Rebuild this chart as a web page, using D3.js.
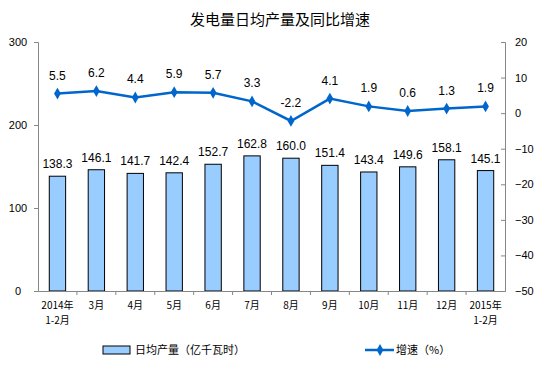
<!DOCTYPE html>
<html>
<head>
<meta charset="utf-8">
<script src="https://cdn.jsdelivr.net/npm/d3@7"></script>
<style>
  body { margin: 0; background: #fff; }
  text { font-family: "Liberation Sans", Arial, sans-serif; }
  .cjk { font-family: "Noto Sans CJK SC", sans-serif; }
</style>
</head>
<body>
<div id="chart"></div>
<script>
const categories = ["2014年\n1-2月", "3月", "4月", "5月", "6月", "7月", "8月", "9月", "10月", "11月", "12月", "2015年\n1-2月"];
const output = [138.3, 146.1, 141.7, 142.4, 152.7, 162.8, 160.0, 151.4, 143.4, 149.6, 158.1, 145.1];
const growth = [5.5, 6.2, 4.4, 5.9, 5.7, 3.3, -2.2, 4.1, 1.9, 0.6, 1.3, 1.9];
const leftTicks = [0, 100, 200, 300];
const rightTicks = [20, 10, 0, -10, -20, -30, -40, -50];

const width = 559, height = 385;
const margin = { top: 42, right: 54, bottom: 94, left: 38 };

const svg = d3.select("#chart").append("svg")
  .attr("width", width)
  .attr("height", height);

const x = d3.scaleBand()
  .domain(categories)
  .range([margin.left, width - margin.right])
  .paddingInner(0.58)
  .paddingOuter(0.29);

const band = d3.scaleBand()
  .domain(categories)
  .range([margin.left, width - margin.right]);

const yL = d3.scaleLinear().domain([0, 300]).range([height - margin.bottom, margin.top]);
const yR = d3.scaleLinear().domain([-50, 20]).range([height - margin.bottom, margin.top]);

// title
svg.append("text")
  .attr("class", "cjk")
  .attr("x", 280)
  .attr("y", 25)
  .attr("text-anchor", "middle")
  .style("font-size", "15px")
  .style("fill", "#000")
  .text("发电量日均产量及同比增速");

// bars
svg.selectAll("rect.bar")
  .data(output)
  .enter()
  .append("rect")
  .attr("class", "bar")
  .attr("x", (d, i) => x(categories[i]))
  .attr("width", x.bandwidth())
  .attr("y", d => yL(d))
  .attr("height", d => yL(0) - yL(d))
  .style("fill", "#99ccff")
  .style("stroke", "#000")
  .style("stroke-width", 1);

svg.selectAll("text.barlabel")
  .data(output)
  .enter()
  .append("text")
  .attr("class", "barlabel")
  .attr("x", (d, i) => band(categories[i]) + band.bandwidth() / 2)
  .attr("y", d => yL(d) - 8)
  .attr("text-anchor", "middle")
  .style("font-size", "12px")
  .style("fill", "#000")
  .text(d => d.toFixed(1));

// axes
const axisColor = "#868686";

const gL = svg.append("g")
  .attr("transform", `translate(${margin.left},0)`)
  .call(d3.axisLeft(yL).tickValues(leftTicks).tickSize(4).tickPadding(12));

const gR = svg.append("g")
  .attr("transform", `translate(${width - margin.right},0)`)
  .call(d3.axisRight(yR).tickValues(rightTicks).tickSize(-4).tickPadding(12));

const gX = svg.append("g")
  .attr("transform", `translate(0,${yL(0)})`)
  .call(d3.axisBottom(band).tickSize(0).tickFormat(""));

gX.selectAll(".tick").remove();
gX.selectAll("line.sep")
  .data(d3.range(1, categories.length))
  .enter()
  .append("line")
  .attr("x1", i => band(categories[i]))
  .attr("x2", i => band(categories[i]))
  .attr("y1", 0)
  .attr("y2", 4)
  .style("stroke", axisColor);

[gL, gR, gX].forEach(g => {
  g.select(".domain").style("stroke", axisColor);
  g.selectAll(".tick line").style("stroke", axisColor);
  g.selectAll(".tick text")
    .style("font-size", "11px")
    .style("fill", "#000")
    .style("font-family", "'Liberation Sans', Arial, sans-serif");
});
gL.selectAll(".tick text").attr("x", -20).attr("text-anchor", "middle");
gR.selectAll(".tick text").attr("x", 10).attr("text-anchor", "start");

// x labels
const xl = svg.append("g");
categories.forEach(c => {
  const lines = c.split("\n");
  const t = xl.append("text")
    .attr("class", "cjk")
    .attr("x", band(c) + band.bandwidth() / 2)
    .attr("y", yL(0) + 18)
    .attr("text-anchor", "middle")
    .style("font-size", "10px")
    .style("fill", "#000");
  lines.forEach((l, j) => {
    t.append("tspan")
      .attr("x", band(c) + band.bandwidth() / 2)
      .attr("dy", j === 0 ? 0 : 15)
      .text(l);
  });
});

// line
const lineColor = "#0066cc";
const line = d3.line()
  .x((d, i) => band(categories[i]) + band.bandwidth() / 2)
  .y(d => yR(d));

svg.append("path")
  .datum(growth)
  .attr("d", line)
  .style("fill", "none")
  .style("stroke", lineColor)
  .style("stroke-width", 2.5);

const diamond = d3.symbol().type(d3.symbolDiamond).size(40);

svg.selectAll("path.marker")
  .data(growth)
  .enter()
  .append("path")
  .attr("class", "marker")
  .attr("d", diamond)
  .attr("transform", (d, i) => `translate(${band(categories[i]) + band.bandwidth() / 2},${yR(d)})`)
  .style("fill", lineColor);

svg.selectAll("text.linelabel")
  .data(growth)
  .enter()
  .append("text")
  .attr("class", "linelabel")
  .attr("x", (d, i) => band(categories[i]) + band.bandwidth() / 2)
  .attr("y", d => yR(d) - 14)
  .attr("text-anchor", "middle")
  .style("font-size", "12px")
  .style("fill", "#000")
  .text(d => d.toFixed(1));

// legend
const leg = svg.append("g").attr("transform", "translate(0,350)");
leg.append("rect")
  .attr("x", 103)
  .attr("y", -4)
  .attr("width", 27)
  .attr("height", 8)
  .style("fill", "#99ccff")
  .style("stroke", "#000");
leg.append("text")
  .attr("class", "cjk")
  .attr("x", 135)
  .attr("y", 4)
  .style("font-size", "11px")
  .text("日均产量（亿千瓦时）");

leg.append("line")
  .attr("x1", 365)
  .attr("x2", 394)
  .attr("y1", 0)
  .attr("y2", 0)
  .style("stroke", lineColor)
  .style("stroke-width", 2.5);
leg.append("path")
  .attr("d", diamond)
  .attr("transform", "translate(380,0)")
  .style("fill", lineColor);
leg.append("text")
  .attr("class", "cjk")
  .attr("x", 396)
  .attr("y", 4)
  .style("font-size", "11px")
  .text("增速（%）");
</script>
</body>
</html>
